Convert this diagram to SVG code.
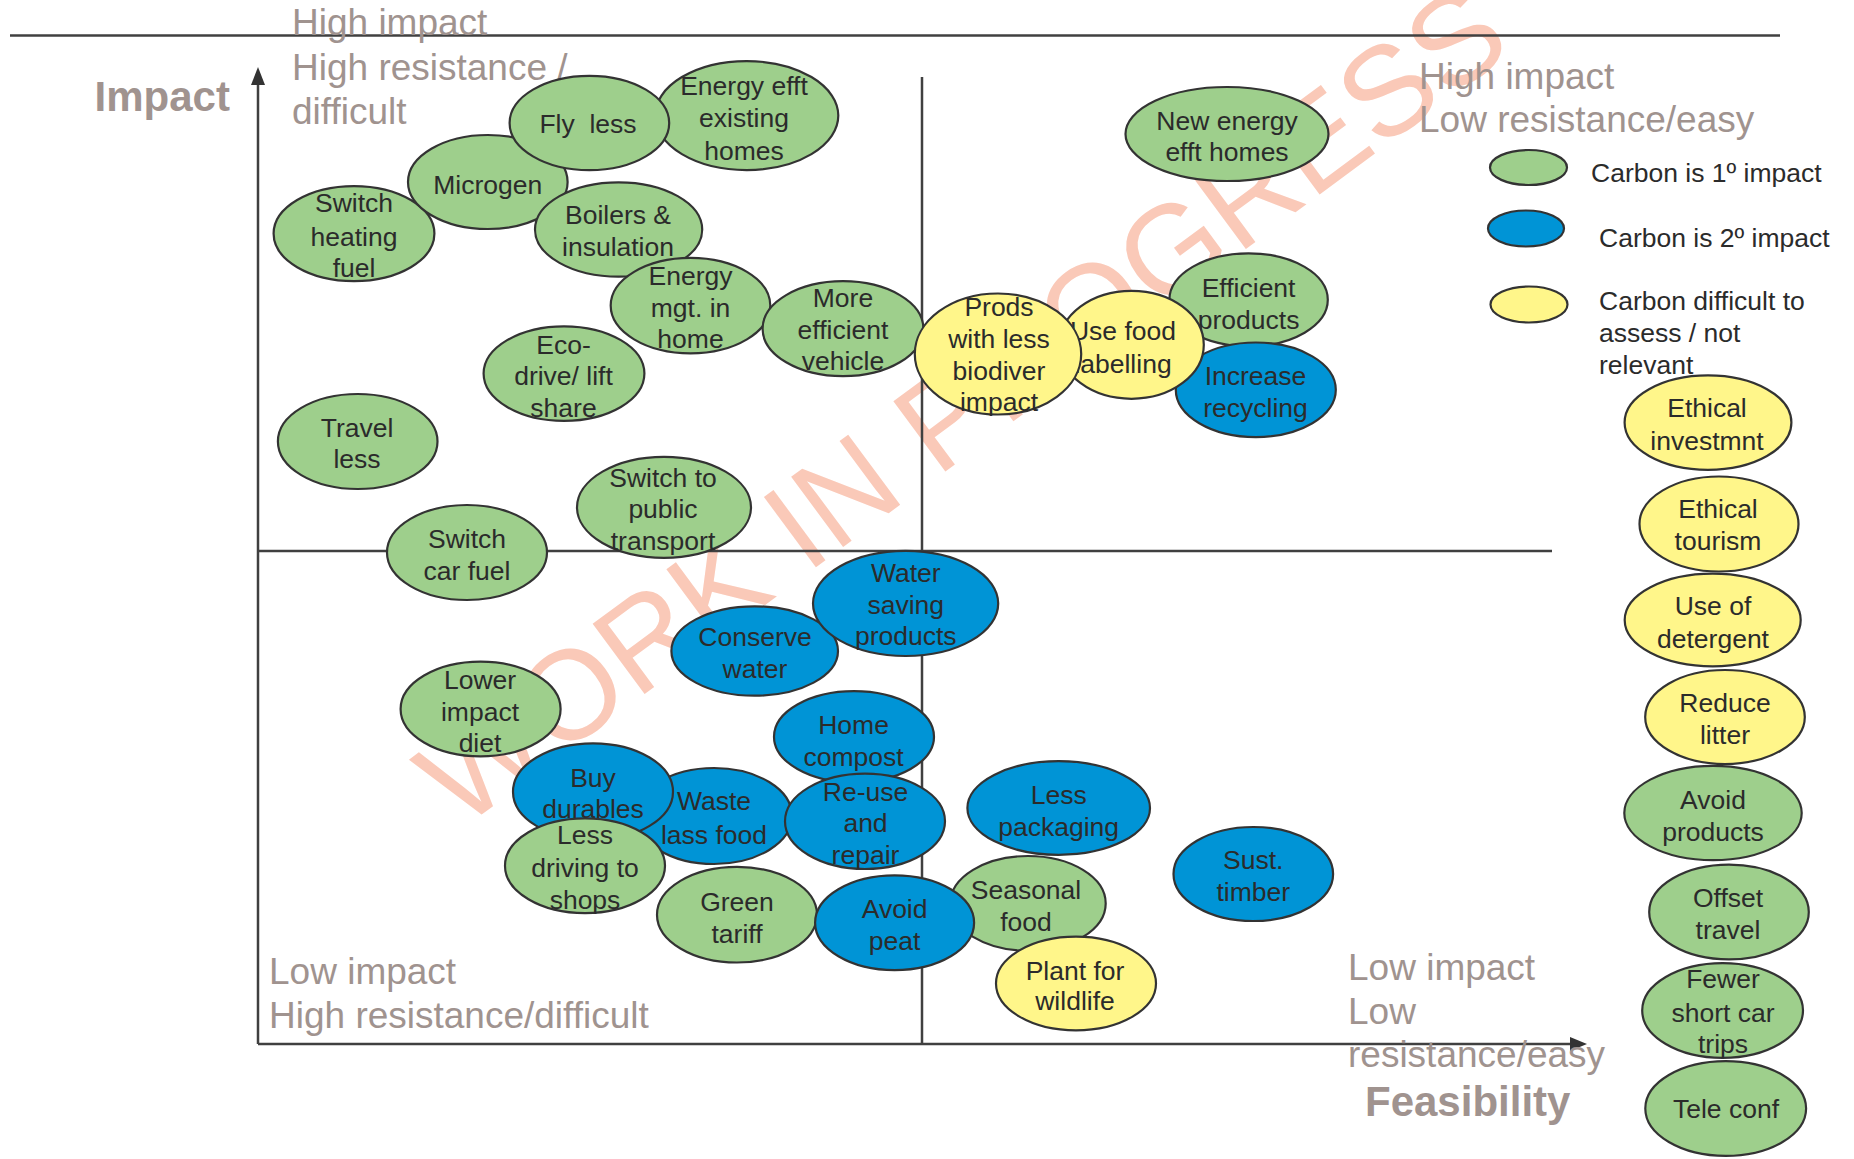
<svg xmlns="http://www.w3.org/2000/svg" width="1854" height="1159" viewBox="0 0 1854 1159">
<style>
.bg{fill:#ffffff}
.wm{font-family:"Liberation Sans",Arial,sans-serif;font-size:127px;fill:#fac9b8}
.ax{stroke:#404040;stroke-width:2.5;fill:none}
.q{font-family:"Liberation Sans",Arial,sans-serif;font-size:37px;fill:#a0938f}
.qb{font-family:"Liberation Sans",Arial,sans-serif;font-size:42px;font-weight:bold;fill:#a0938f}
.n ellipse{stroke:#333333;stroke-width:2.2}
.g ellipse{fill:#9ecf8c}
.b ellipse{fill:#0094d6}
.y ellipse{fill:#fff68a}
.n text{font-family:"Liberation Sans",Arial,sans-serif;font-size:26.5px;fill:#2b2b2b;text-anchor:middle}
.lg{font-family:"Liberation Sans",Arial,sans-serif;font-size:26.5px;fill:#2b2b2b}
</style>
<rect class="bg" x="0" y="0" width="1854" height="1159"/>
<g id="watermark">
<text class="wm" transform="translate(988,440) rotate(-36.5)" text-anchor="middle" x="0" y="0">WORK IN PROGRESS</text>
</g>
<g id="connectors">
<line class="ax" x1="10" y1="35.5" x2="1780" y2="35.5"/>
<line class="ax" x1="258" y1="80" x2="258" y2="1044"/>
<line class="ax" x1="258" y1="1044" x2="1574" y2="1044"/>
<line class="ax" x1="922" y1="77" x2="922" y2="1044"/>
<line class="ax" x1="258" y1="551" x2="1552" y2="551"/>
<polygon points="258,67 251,85 265,85" fill="#333333"/>
<polygon points="1587,1044 1570,1037 1570,1051" fill="#333333"/>
</g>
<g id="labels">
<text class="q" x="292" y="35">High impact</text>
<text class="q" x="292" y="79.5">High resistance /</text>
<text class="q" x="292" y="124">difficult</text>
<text class="q" x="1419" y="89">High impact</text>
<text class="q" x="1419" y="131.5">Low resistance/easy</text>
<text class="q" x="269" y="984">Low impact</text>
<text class="q" x="269" y="1028">High resistance/difficult</text>
<text class="q" x="1348" y="980">Low impact</text>
<text class="q" x="1348" y="1024">Low</text>
<text class="q" x="1348" y="1067">resistance/easy</text>
<text class="qb" x="94.5" y="111">Impact</text>
<text class="qb" x="1365" y="1116">Feasibility</text>
</g>
<g id="legend">
<ellipse cx="1528.5" cy="167.5" rx="38.5" ry="17.5" fill="#9ecf8c" stroke="#333333" stroke-width="2.2"/>
<ellipse cx="1526" cy="228.5" rx="38" ry="18" fill="#0094d6" stroke="#333333" stroke-width="2.2"/>
<ellipse cx="1529" cy="304.5" rx="38.5" ry="18" fill="#fff68a" stroke="#333333" stroke-width="2.2"/>
<text class="lg" x="1591" y="182">Carbon is 1º impact</text>
<text class="lg" x="1599" y="247">Carbon is 2º impact</text>
<text class="lg" x="1599" y="309.5">Carbon difficult to</text>
<text class="lg" x="1599" y="341.5">assess / not</text>
<text class="lg" x="1599" y="373.5">relevant</text>
</g>
<g id="switch-heating-fuel" class="n g"><ellipse cx="354" cy="233.6" rx="80.4" ry="47.5"/><text><tspan x="354" y="212">Switch</tspan><tspan x="354" y="245.5">heating</tspan><tspan x="354" y="276.5">fuel</tspan></text></g>
<g id="microgen" class="n g"><ellipse cx="487.8" cy="182" rx="79.8" ry="47"/><text x="487.8" y="193.5">Microgen</text></g>
<g id="energy-efft-existing-homes" class="n g"><ellipse cx="746.7" cy="115.6" rx="91.6" ry="54.5"/><text><tspan x="744" y="94.5">Energy efft</tspan><tspan x="744" y="127">existing</tspan><tspan x="744" y="159.5">homes</tspan></text></g>
<g id="fly-less" class="n g"><ellipse cx="589.4" cy="123" rx="79.8" ry="47.2"/><text x="588" y="132.5" xml:space="preserve">Fly  less</text></g>
<g id="boilers-insulation" class="n g"><ellipse cx="618.6" cy="229.5" rx="83.6" ry="47.2"/><text><tspan x="618" y="224">Boilers &amp;</tspan><tspan x="618" y="255.5">insulation</tspan></text></g>
<g id="energy-mgt-home" class="n g"><ellipse cx="690.5" cy="305.6" rx="79.8" ry="47.7"/><text><tspan x="690.5" y="285">Energy</tspan><tspan x="690.5" y="316.5">mgt. in</tspan><tspan x="690.5" y="348">home</tspan></text></g>
<g id="more-efficient-vehicle" class="n g"><ellipse cx="843" cy="328.7" rx="80.4" ry="47.5"/><text><tspan x="843" y="307">More</tspan><tspan x="843" y="338.5">efficient</tspan><tspan x="843" y="370">vehicle</tspan></text></g>
<g id="eco-drive-lift-share" class="n g"><ellipse cx="564" cy="373.6" rx="80.4" ry="47.3"/><text><tspan x="563.5" y="353.5">Eco-</tspan><tspan x="563.5" y="385">drive/ lift</tspan><tspan x="563.5" y="416.5">share</tspan></text></g>
<g id="travel-less" class="n g"><ellipse cx="357.7" cy="441.5" rx="79.8" ry="47.5"/><text><tspan x="357" y="436.5">Travel</tspan><tspan x="357" y="468">less</tspan></text></g>
<g id="switch-public-transport" class="n g"><ellipse cx="664" cy="507.3" rx="87" ry="50.5"/><text><tspan x="663" y="486.5">Switch to</tspan><tspan x="663" y="518">public</tspan><tspan x="663" y="550">transport</tspan></text></g>
<g id="switch-car-fuel" class="n g"><ellipse cx="467" cy="552.5" rx="80" ry="47.5"/><text><tspan x="467" y="547.5">Switch</tspan><tspan x="467" y="580">car fuel</tspan></text></g>
<g id="new-energy-efft-homes" class="n g"><ellipse cx="1227" cy="134" rx="101.5" ry="47"/><text><tspan x="1227" y="129.5">New energy</tspan><tspan x="1227" y="161">efft homes</tspan></text></g>
<g id="efficient-products" class="n g"><ellipse cx="1248.6" cy="299.8" rx="79.2" ry="46.5"/><text><tspan x="1248.6" y="296.5">Efficient</tspan><tspan x="1248.6" y="329">products</tspan></text></g>
<g id="increase-recycling" class="n b"><ellipse cx="1255.8" cy="389.8" rx="80" ry="47.3"/><text><tspan x="1255.5" y="384.5">Increase</tspan><tspan x="1255.5" y="417">recycling</tspan></text></g>
<g id="use-food-labelling" class="n y"><ellipse cx="1131.5" cy="344.8" rx="72.3" ry="54"/><text><tspan x="1123" y="339.5">Use food</tspan><tspan x="1123" y="373">labelling</tspan></text></g>
<g id="prods-less-biodiver-impact" class="n y"><ellipse cx="998" cy="354" rx="83.2" ry="60.5"/><text><tspan x="999" y="315.5">Prods</tspan><tspan x="999" y="348">with less</tspan><tspan x="999" y="380">biodiver</tspan><tspan x="999" y="411">impact</tspan></text></g>
<g id="conserve-water" class="n b"><ellipse cx="754.7" cy="651" rx="83.3" ry="44.7"/><text><tspan x="755" y="646">Conserve</tspan><tspan x="755" y="678">water</tspan></text></g>
<g id="water-saving-products" class="n b"><ellipse cx="905.6" cy="603.4" rx="92.6" ry="52.6"/><text><tspan x="905.8" y="581.5">Water</tspan><tspan x="905.8" y="613.5">saving</tspan><tspan x="905.8" y="645">products</tspan></text></g>
<g id="home-compost" class="n b"><ellipse cx="854" cy="736.7" rx="80" ry="45.6"/><text><tspan x="853.6" y="734">Home</tspan><tspan x="853.6" y="765.5">compost</tspan></text></g>
<g id="lower-impact-diet" class="n g"><ellipse cx="480.6" cy="709" rx="80" ry="47.4"/><text><tspan x="480" y="688.5">Lower</tspan><tspan x="480" y="720.5">impact</tspan><tspan x="480" y="752">diet</tspan></text></g>
<g id="waste-lass-food" class="n b"><ellipse cx="714" cy="816" rx="78" ry="48"/><text><tspan x="714" y="810">Waste</tspan><tspan x="714" y="843.5">lass food</tspan></text></g>
<g id="reuse-repair" class="n b"><ellipse cx="865" cy="821.3" rx="80" ry="47.7"/><text><tspan x="865.5" y="800.5">Re-use</tspan><tspan x="865.5" y="832">and</tspan><tspan x="865.5" y="864">repair</tspan></text></g>
<g id="buy-durables" class="n b"><ellipse cx="593" cy="791.7" rx="80" ry="48.4"/><text><tspan x="593" y="786.5">Buy</tspan><tspan x="593" y="818">durables</tspan></text></g>
<g id="less-driving-shops" class="n g"><ellipse cx="585" cy="865.7" rx="80" ry="47.4"/><text><tspan x="585" y="843.5">Less</tspan><tspan x="585" y="876.5">driving to</tspan><tspan x="585" y="908.5">shops</tspan></text></g>
<g id="green-tariff" class="n g"><ellipse cx="737" cy="914.7" rx="80" ry="47.8"/><text><tspan x="737" y="910.5">Green</tspan><tspan x="737" y="942.5">tariff</tspan></text></g>
<g id="seasonal-food" class="n g"><ellipse cx="1028" cy="903.4" rx="77.7" ry="47.4"/><text><tspan x="1026" y="899">Seasonal</tspan><tspan x="1026" y="930.5">food</tspan></text></g>
<g id="avoid-peat" class="n b"><ellipse cx="894.6" cy="922.7" rx="79.5" ry="47.4"/><text><tspan x="894.6" y="918">Avoid</tspan><tspan x="894.6" y="949.5">peat</tspan></text></g>
<g id="plant-wildlife" class="n y"><ellipse cx="1076" cy="983.5" rx="80" ry="46.8"/><text><tspan x="1075" y="979.5">Plant for</tspan><tspan x="1075" y="1009.5">wildlife</tspan></text></g>
<g id="less-packaging" class="n b"><ellipse cx="1058.7" cy="808" rx="91.3" ry="46.8"/><text><tspan x="1058.7" y="804">Less</tspan><tspan x="1058.7" y="835.5">packaging</tspan></text></g>
<g id="sust-timber" class="n b"><ellipse cx="1253.3" cy="874" rx="79.8" ry="47"/><text><tspan x="1253.3" y="869">Sust.</tspan><tspan x="1253.3" y="901">timber</tspan></text></g>
<g id="ethical-investmnt" class="n y"><ellipse cx="1708" cy="422.6" rx="83.4" ry="47.2"/><text><tspan x="1707" y="416.5">Ethical</tspan><tspan x="1707" y="449.5">investmnt</tspan></text></g>
<g id="ethical-tourism" class="n y"><ellipse cx="1719" cy="524" rx="79.5" ry="47.5"/><text><tspan x="1718" y="518">Ethical</tspan><tspan x="1718" y="550">tourism</tspan></text></g>
<g id="use-of-detergent" class="n y"><ellipse cx="1712.7" cy="620" rx="88" ry="46.4"/><text><tspan x="1713" y="614.5">Use of</tspan><tspan x="1713" y="647.5">detergent</tspan></text></g>
<g id="reduce-litter" class="n y"><ellipse cx="1725" cy="717" rx="79.8" ry="47"/><text><tspan x="1725" y="711.5">Reduce</tspan><tspan x="1725" y="743.5">litter</tspan></text></g>
<g id="avoid-products" class="n g"><ellipse cx="1713" cy="813" rx="88.7" ry="47.2"/><text><tspan x="1713" y="808.5">Avoid</tspan><tspan x="1713" y="840.5">products</tspan></text></g>
<g id="offset-travel" class="n g"><ellipse cx="1729" cy="912" rx="79.8" ry="47.4"/><text><tspan x="1728" y="906.5">Offset</tspan><tspan x="1728" y="938.5">travel</tspan></text></g>
<g id="fewer-short-car-trips" class="n g"><ellipse cx="1722.6" cy="1010.5" rx="80.4" ry="47.4"/><text><tspan x="1723" y="987.5">Fewer</tspan><tspan x="1723" y="1021.5">short car</tspan><tspan x="1723" y="1053">trips</tspan></text></g>
<g id="tele-conf" class="n g"><ellipse cx="1725.7" cy="1108.5" rx="80.4" ry="47.4"/><text x="1726" y="1118">Tele conf</text></g>
</svg>
